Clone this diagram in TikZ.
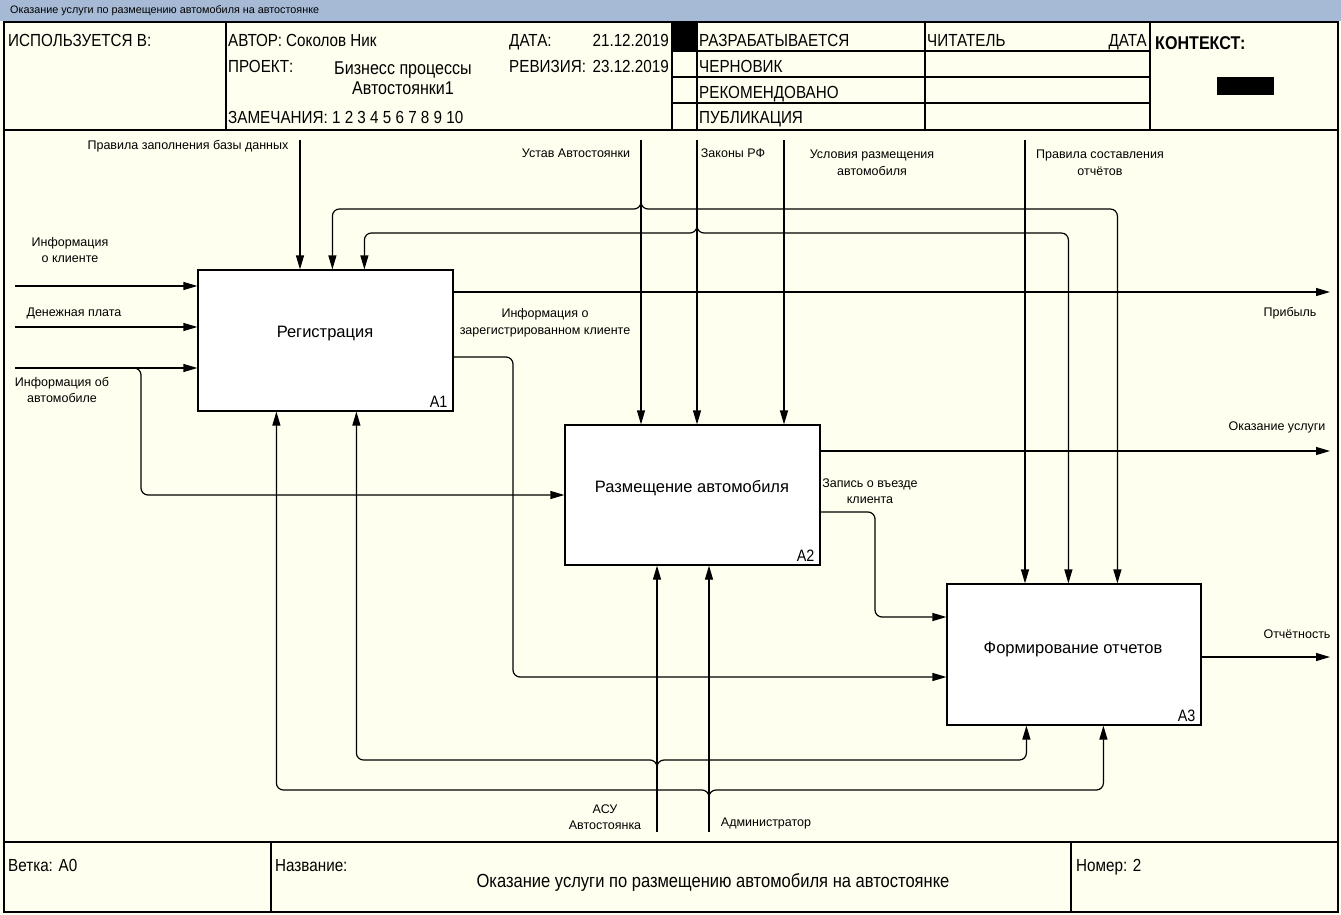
\documentclass[tikz,border=0pt]{standalone}
\usepackage{fontspec}
\setmainfont{Liberation Sans}
\newfontfamily\hdrfont[FakeStretch=0.87]{Liberation Sans}
\usetikzlibrary{arrows.meta,calc}
\definecolor{paper}{RGB}{255,255,240}
\definecolor{titlebar}{RGB}{166,186,214}
\tikzset{
  frame/.style={line width=1.2pt},
  flow/.style={line width=1.2pt, rounded corners=7pt, -{Triangle[length=14pt,width=8pt]}},
  lbl/.style={font=\fontsize{12.5}{16.5}\selectfont, align=center, inner sep=0pt},
  hd/.style={font=\hdrfont\fontsize{17.5}{19}\selectfont, inner sep=0pt, anchor=base west},
  hdr/.style={hd, anchor=base east},
  funcbox/.style={draw, line width=1.2pt, fill=white, inner sep=0pt},
  boxtext/.style={font=\fontsize{16.5}{19}\selectfont, inner sep=0pt},
  boxnum/.style={font=\hdrfont\fontsize{16.5}{19}\selectfont, inner sep=0pt, anchor=south east}
}
\begin{document}
\begin{tikzpicture}[x=1pt, y=-1pt]
\useasboundingbox (0,0) rectangle (1341,915);
% paper and title bar
\fill[paper] (0,0) rectangle (1341,915);
\fill[titlebar] (0,0) rectangle (1341,21);
\node[anchor=west, inner sep=0pt, font=\fontsize{10.8}{13}\selectfont] (wintitle) at (10,11)
  {Оказание услуги по размещению автомобиля на автостоянке};

% outer frame, header and footer grid
\draw[frame] (4,22) rectangle (1338,912);
\draw[frame] (4,130) -- (1338,130);
\draw[frame] (4,842) -- (1338,842);
\foreach \x in {226,672,697,925,1150} \draw[frame] (\x,22) -- (\x,130);
\foreach \y in {51,77,103} \draw[frame] (672,\y) -- (1150,\y);
\fill (672,22) rectangle (697,51);
\fill (1217,77) rectangle (1274,95);
\draw[frame] (271,842) -- (271,912);
\draw[frame] (1071,842) -- (1071,912);

% header texts
\node[hd] (usedat) at (8,47) {ИСПОЛЬЗУЕТСЯ В:};
\node[hd] (author) at (228,47) {АВТОР: Соколов Ник};
\node[hd] (date) at (509,47) {ДАТА:};
\node[hdr] (dateval) at (669,47) {21.12.2019};
\node[hd] (project) at (228,73) {ПРОЕКТ:};
\node[hd] (rev) at (509,73) {РЕВИЗИЯ:};
\node[hdr] (revval) at (669,73) {23.12.2019};
\node[font=\hdrfont\fontsize{18.5}{20.5}\selectfont, align=center, inner sep=0pt] (projname) at (403,78)
  {Бизнесс процессы\\Автостоянки1};
\node[hd] (notes) at (228,124) {ЗАМЕЧАНИЯ: 1 2 3 4 5 6 7 8 9 10};
\node[hd] (st1) at (699,47) {РАЗРАБАТЫВАЕТСЯ};
\node[hd] (st2) at (699,73) {ЧЕРНОВИК};
\node[hd] (st3) at (699,98.5) {РЕКОМЕНДОВАНО};
\node[hd] (st4) at (699,124) {ПУБЛИКАЦИЯ};
\node[hd] (reader) at (927,47) {ЧИТАТЕЛЬ};
\node[hdr] (rdate) at (1147,47) {ДАТА};
\node[hd, font=\hdrfont\bfseries\fontsize{18.5}{20}\selectfont] (context) at (1155,50) {КОНТЕКСТ:};

% footer texts
\node[hd] (node) at (8,871) {Ветка: А0};
\node[hd] (name) at (275,871) {Название:};
\node[font=\hdrfont\fontsize{19}{21}\selectfont, inner sep=0pt, anchor=base] (diagname) at (713,887)
  {Оказание услуги по размещению автомобиля на автостоянке};
\node[hd] (number) at (1076,871) {Номер: 2};

% function boxes
\node[funcbox, minimum width=255pt, minimum height=141pt] (A1) at (325.5,340.5) {};
\node[funcbox, minimum width=255pt, minimum height=140pt] (A2) at (692.5,495) {};
\node[funcbox, minimum width=254pt, minimum height=141pt] (A3) at (1074,654.5) {};
\node[boxtext] (A1t) at (325,334) {Регистрация};
\node[boxtext] (A2t) at (692,488) {Размещение автомобиля};
\node[boxtext] (A3t) at (1073,649) {Формирование отчетов};
\node[boxnum] (A1n) at ($(A1.south east)+(-6,-4)$) {A1};
\node[boxnum] (A2n) at ($(A2.south east)+(-6,-4)$) {A2};
\node[boxnum] (A3n) at ($(A3.south east)+(-6,-4)$) {A3};

% free ends of the boundary arrows and branch points
\coordinate (in1) at (15,286);
\coordinate (in2) at (15,327);
\coordinate (in3) at (15,368);
\coordinate (j3) at (128,368);
\coordinate (c1) at (300,140);
\coordinate (c2) at (641,140);
\coordinate (c3) at (697,140);
\coordinate (c4) at (784,140);
\coordinate (c5) at (1025,140);
\coordinate (j2) at (641,202);
\coordinate (j4) at (697,227);
\coordinate (o1) at (1330,292);
\coordinate (o3) at (1330,451);
\coordinate (o5) at (1330,657);
\coordinate (r1) at (513,357);
\coordinate (q1) at (513,677);
\coordinate (r2) at (875,512);
\coordinate (q2) at (875,617);
\coordinate (m1) at (657,832);
\coordinate (m2) at (709,832);
\coordinate (k1) at (657,767);
\coordinate (k2) at (709,797);

% inputs
\draw[flow] (in1) -- (in1 -| A1.west);
\draw[flow] (in2) -- (in2 -| A1.west);
\draw[flow] (in3) -- (in3 -| A1.west);
\draw[flow] (j3) -- (141,368) -- (141,495) -- (A2.west |- 0,495);

% controls
\draw[flow] (c1) -- (c1 |- A1.north);
\draw[flow] (c2) -- (c2 |- A2.north);
\draw[flow] (c3) -- (c3 |- A2.north);
\draw[flow] (c4) -- (c4 |- A2.north);
\draw[flow] (c5) -- (c5 |- A3.north);
\draw[flow] (j2) -- ++(0,7) -| ($(A1.north west)+(135,0)$);
\draw[flow] (j2) -- ++(0,7) -| ($(A3.north west)+(171,0)$);
\draw[flow] (j4) -- ++(0,6) -| ($(A1.north west)+(167,0)$);
\draw[flow] (j4) -- ++(0,6) -| ($(A3.north west)+(122,0)$);

% outputs
\draw[flow] (o1 -| A1.east) -- (o1);
\draw[flow] (o3 -| A2.east) -- (o3);
\draw[flow] (o5 -| A3.east) -- (o5);
\draw[flow] (r1 -| A1.east) -- (r1) -- (q1) -- (q1 -| A3.west);
\draw[flow] (r2 -| A2.east) -- (r2) -- (q2) -- (q2 -| A3.west);

% mechanisms
\draw[flow] (m1) -- (m1 |- A2.south);
\draw[flow] (m2) -- (m2 |- A2.south);
\draw[flow] (k1) -- ++(0,-7) -| ($(A1.south west)+(159,0)$);
\draw[flow] (k1) -- ++(0,-7) -| ($(A3.south west)+(80,0)$);
\draw[flow] (k2) -- ++(0,-7) -| ($(A1.south west)+(79,0)$);
\draw[flow] (k2) -- ++(0,-7) -| ($(A3.south west)+(157,0)$);

% arrow labels
\node[lbl] (l_c1) at (188,146) {Правила заполнения базы данных};
\node[lbl] (l_c2) at (576,153) {Устав Автостоянки};
\node[lbl] (l_c3) at (733,153) {Законы РФ};
\node[lbl] (l_c4) at (872,163) {Условия размещения\\автомобиля};
\node[lbl] (l_c5) at (1100,163) {Правила составления\\отчётов};
\node[lbl] (l_in1) at (70,250) {Информация\\о клиенте};
\node[lbl] (l_in2) at (74,313) {Денежная плата};
\node[lbl] (l_in3) at (62,390) {Информация об\\автомобиле};
\node[lbl] (l_o2) at (545,323) {Информация о\\зарегистрированном клиенте};
\node[lbl] (l_o1) at (1290,313) {Прибыль};
\node[lbl] (l_o3) at (1277,427) {Оказание услуги};
\node[lbl] (l_o4) at (870,491) {Запись о въезде\\клиента};
\node[lbl] (l_o5) at (1297,634) {Отчётность};
\node[lbl] (l_m1) at (605,817) {АСУ\\Автостоянка};
\node[lbl] (l_m2) at (766,823) {Администратор};
\end{tikzpicture}
\end{document}
